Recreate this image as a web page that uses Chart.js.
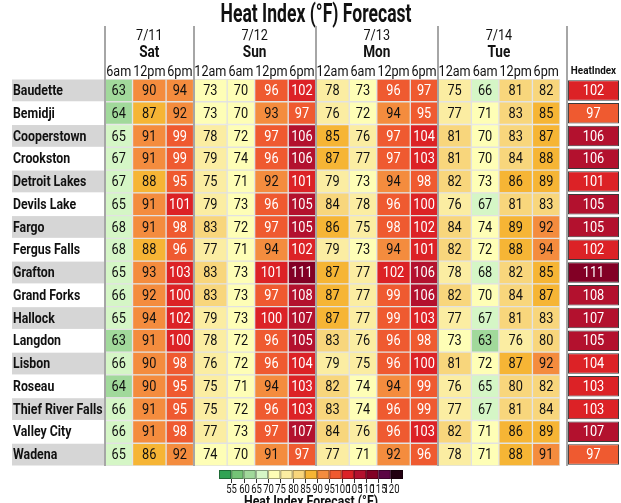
<!DOCTYPE html>
<html lang="en">
<head>
    <meta charset="UTF-8">
    <title>Heat Index Forecast</title>
    <script src="https://cdn.jsdelivr.net/npm/chart.js"></script>
    <style>
        html, body { margin: 0; padding: 0; background: #fff; }
        #wrap { width: 621px; height: 503px; }
    </style>
</head>
<body>
    <div id="wrap"><canvas id="heatChart" width="621" height="503"></canvas></div>

    <script>
        // Data
        const cities = ['Baudette', 'Bemidji', 'Cooperstown', 'Crookston', 'Detroit Lakes', 'Devils Lake', 'Fargo',
            'Fergus Falls', 'Grafton', 'Grand Forks', 'Hallock', 'Langdon', 'Lisbon', 'Roseau', 'Thief River Falls',
            'Valley City', 'Wadena'];
        const dayDates = ['7/11', '7/12', '7/13', '7/14'];
        const dayNames = ['Sat', 'Sun', 'Mon', 'Tue'];
        const dayTimes = [
            ['6am', '12pm', '6pm'],
            ['12am', '6am', '12pm', '6pm'],
            ['12am', '6am', '12pm', '6pm'],
            ['12am', '6am', '12pm', '6pm']
        ];
        // one row per city, one value per time slot (Sat 6am ... Tue 6pm)
        const forecast = [
            [63, 90, 94, 73, 70, 96, 102, 78, 73, 96, 97, 75, 66, 81, 82],
            [64, 87, 92, 73, 70, 93, 97, 76, 72, 94, 95, 77, 71, 83, 85],
            [65, 91, 99, 78, 72, 97, 106, 85, 76, 97, 104, 81, 70, 83, 87],
            [67, 91, 99, 79, 74, 96, 106, 87, 77, 97, 103, 81, 70, 84, 88],
            [67, 88, 95, 75, 71, 92, 101, 79, 73, 94, 98, 82, 73, 86, 89],
            [65, 91, 101, 79, 73, 96, 105, 84, 78, 96, 100, 76, 67, 81, 83],
            [68, 91, 98, 83, 72, 97, 105, 86, 75, 98, 102, 84, 74, 89, 92],
            [68, 88, 96, 77, 71, 94, 102, 79, 73, 94, 101, 82, 72, 88, 94],
            [65, 93, 103, 83, 73, 101, 111, 87, 77, 102, 106, 78, 68, 82, 85],
            [66, 92, 100, 83, 73, 97, 108, 87, 77, 99, 106, 82, 70, 84, 87],
            [65, 94, 102, 79, 73, 100, 107, 87, 77, 99, 103, 77, 67, 81, 83],
            [63, 91, 100, 78, 72, 96, 105, 83, 76, 96, 98, 73, 63, 76, 80],
            [66, 90, 98, 76, 72, 96, 104, 79, 75, 96, 100, 81, 72, 87, 92],
            [64, 90, 95, 75, 71, 94, 103, 82, 74, 94, 99, 76, 65, 80, 82],
            [66, 91, 95, 75, 72, 96, 103, 83, 74, 96, 99, 77, 67, 81, 84],
            [66, 91, 98, 77, 73, 97, 107, 84, 76, 96, 103, 82, 71, 86, 89],
            [65, 86, 92, 74, 70, 91, 97, 77, 71, 92, 96, 78, 71, 88, 91]
        ];
        const maxHeatIndex = [102, 97, 106, 106, 101, 105, 105, 102, 111, 108, 107, 105, 104, 103, 103, 107, 97];
        const legendTicks = [55, 60, 65, 70, 75, 80, 85, 90, 95, 100, 105, 110, 115, 120];
        const binColors = ['#31a354', '#74c476', '#a1d99b', '#d5f6c6', '#fefeb6', '#fbeda2', '#f8d67c', '#f6b535',
            '#f48c3e', '#ef5a30', '#dc2226', '#b3112e', '#820025', '#5c0545', '#220011'];

        function heatColor(v) {
            let i = 0;
            while (i < legendTicks.length && v >= legendTicks[i]) i++;
            return binColors[i];
        }

        // 12am / 12pm columns are a bit wider, like the header text
        function slotWidth(time) {
            return time.startsWith('12') ? 33.5 : 27.5;
        }

        function drawText(ctx, str, x, y, font, opts) {
            const o = Object.assign({ color: '#111', align: 'center', baseline: 'middle', sx: 1, width: 0 }, opts);
            ctx.save();
            ctx.font = font;
            ctx.fillStyle = o.color;
            ctx.textAlign = o.align;
            ctx.textBaseline = o.baseline;
            let sx = o.sx;
            if (o.width) sx = o.width / ctx.measureText(str).width;
            ctx.translate(x, y);
            ctx.scale(sx, 1);
            ctx.fillText(str, 0, 0);
            ctx.restore();
        }

        const slots = [];
        dayTimes.forEach((times, d) => times.forEach(t => slots.push({ day: d, time: t })));

        const datasets = slots.map((slot, j) => ({
            label: dayNames[slot.day] + ' ' + slot.time,
            data: cities.map(() => slotWidth(slot.time)),
            values: forecast.map(row => row[j]),
            backgroundColor: forecast.map(row => heatColor(row[j])),
            borderColor: '#e2e2e2',
            borderWidth: 1,
            borderSkipped: false,
            barPercentage: 1,
            categoryPercentage: 1,
            stack: 'grid',
            day: slot.day
        }));
        datasets.push({
            label: 'spacer',
            data: cities.map(() => 8),
            backgroundColor: 'rgba(0,0,0,0)',
            borderWidth: 0,
            barPercentage: 1,
            categoryPercentage: 1,
            stack: 'grid'
        });
        datasets.push({
            label: 'HeatIndex',
            data: cities.map(() => 51),
            values: maxHeatIndex,
            backgroundColor: maxHeatIndex.map(heatColor),
            borderColor: '#3a3a3a',
            borderWidth: 1,
            borderSkipped: false,
            barPercentage: 0.9,
            categoryPercentage: 1,
            stack: 'grid'
        });
        const totalWidth = datasets.reduce((s, ds) => s + ds.data[0], 0);

        const tablePlugin = {
            id: 'heatTable',
            beforeDatasetsDraw(chart) {
                const ctx = chart.ctx;
                const yScale = chart.scales.y;
                const area = chart.chartArea;
                const pitch = (area.bottom - area.top) / cities.length;

                drawText(ctx, 'Heat Index (°F) Forecast', 316, 16, 'bold 25px Roboto', { width: 191 });

                // row label bands
                cities.forEach((c, i) => {
                    const yc = yScale.getPixelForValue(i);
                    if (i % 2 === 0) {
                        ctx.fillStyle = '#d6d6d6';
                        ctx.fillRect(12, yc - pitch / 2 + 0.5, area.left - 12, pitch - 1);
                    }
                    drawText(ctx, c, 13, yc + 1, 'bold 14.5px Roboto', { align: 'left', sx: 0.85 });
                });

                // column headers from bar positions
                const groups = dayNames.map(() => ({ l: Infinity, r: -Infinity }));
                slots.forEach((slot, j) => {
                    const bar = chart.getDatasetMeta(j).data[0];
                    const l = Math.min(bar.x, bar.base), r = Math.max(bar.x, bar.base);
                    groups[slot.day].l = Math.min(groups[slot.day].l, l);
                    groups[slot.day].r = Math.max(groups[slot.day].r, r);
                    drawText(ctx, slot.time, (l + r) / 2, 72, '14px Roboto', { sx: 0.9 });
                });
                groups.forEach((g, d) => {
                    drawText(ctx, dayDates[d], (g.l + g.r) / 2, 36, '14px Roboto', { sx: 0.9 });
                    drawText(ctx, dayNames[d], (g.l + g.r) / 2, 53, 'bold 16px Roboto', { sx: 0.85 });
                });
                const hiBar = chart.getDatasetMeta(datasets.length - 1).data[0];
                drawText(ctx, 'HeatIndex', (hiBar.x + hiBar.base) / 2, 71, 'bold 11.5px Roboto', { sx: 0.86 });
                chart.$groups = groups;
            },
            afterDatasetsDraw(chart) {
                const ctx = chart.ctx;
                const area = chart.chartArea;

                // values inside cells
                datasets.forEach((ds, j) => {
                    if (!ds.values) return;
                    chart.getDatasetMeta(j).data.forEach((bar, i) => {
                        const v = ds.values[i];
                        drawText(ctx, String(v), (bar.x + bar.base) / 2, bar.y + 1, '14.5px Roboto',
                            { color: v >= 95 ? '#fff' : '#111', sx: 0.88 });
                    });
                });

                // day group separators
                const hiBar = chart.getDatasetMeta(datasets.length - 1).data[0];
                const lines = chart.$groups.map(g => g.l).concat([hiBar.base - 1]);
                ctx.save();
                ctx.strokeStyle = '#a6a6a6';
                ctx.lineWidth = 2;
                lines.forEach(x => {
                    ctx.beginPath();
                    ctx.moveTo(Math.round(x), 26);
                    ctx.lineTo(Math.round(x), area.bottom);
                    ctx.stroke();
                });
                ctx.restore();

                // colour legend
                const lx = 219, lw = 184, ly = 470, lh = 9;
                const sw = lw / binColors.length;
                ctx.save();
                binColors.forEach((c, k) => {
                    ctx.fillStyle = c;
                    ctx.fillRect(lx + k * sw, ly, sw, lh);
                    ctx.strokeStyle = 'rgba(0,0,0,0.35)';
                    ctx.lineWidth = 1;
                    ctx.strokeRect(lx + k * sw + 0.5, ly + 0.5, sw - 1, lh - 1);
                });
                ctx.strokeStyle = '#333';
                legendTicks.forEach((t, k) => {
                    const x = Math.round(lx + (k + 1) * sw) + 0.5;
                    ctx.beginPath();
                    ctx.moveTo(x, ly + lh);
                    ctx.lineTo(x, ly + lh + 4);
                    ctx.stroke();
                    drawText(ctx, String(t), x, 493, '12.5px Roboto', { baseline: 'alphabetic', sx: 0.76 });
                });
                ctx.restore();
                drawText(ctx, 'Heat Index Forecast (°F)', 311, 506, 'bold 14px Roboto', { baseline: 'alphabetic', sx: 0.88 });
            }
        };

        new Chart(document.getElementById('heatChart'), {
            type: 'bar',
            data: { labels: cities, datasets: datasets },
            options: {
                indexAxis: 'y',
                responsive: false,
                animation: false,
                devicePixelRatio: 1,
                layout: { padding: { left: 105, right: 2, top: 79, bottom: 37 } },
                scales: {
                    x: { type: 'linear', stacked: true, min: 0, max: totalWidth, display: false },
                    y: { stacked: true, display: false }
                },
                plugins: {
                    legend: { display: false },
                    tooltip: { enabled: false }
                }
            },
            plugins: [tablePlugin]
        });
    </script>
</body>
</html>
